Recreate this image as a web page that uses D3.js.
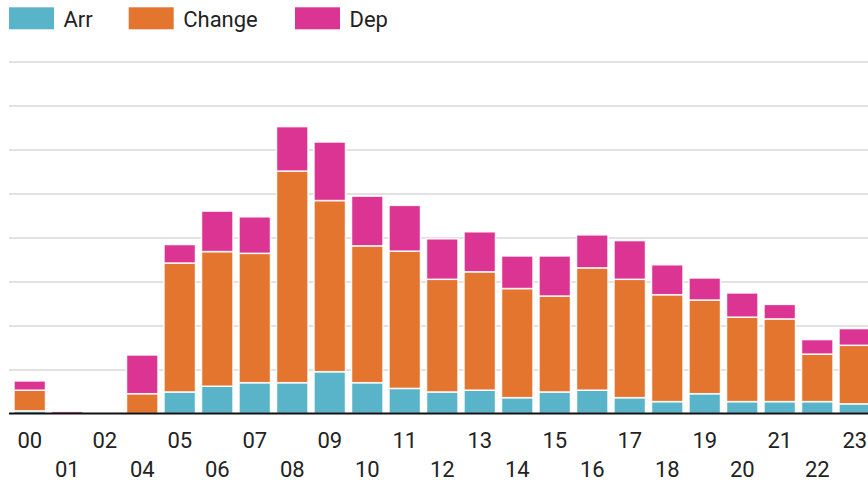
<!DOCTYPE html>
<html>
<head>
<meta charset="utf-8">
<script src="https://cdn.jsdelivr.net/npm/d3@7"></script>
<style>
  body { margin: 0; background: #fff; }
  svg { display: block; font-family: Roboto, "Noto Sans", sans-serif; }
</style>
</head>
<body>
<div id="chart"></div>
<script>
// hours (no 03 in the data)
const hours = ["00","01","02","04","05","06","07","08","09","10","11","12",
               "13","14","15","16","17","18","19","20","21","22","23"];
const arr    = [0.6, 0, 0, 0,   4.9, 6.2, 7.0, 7.0, 9.5, 7.0, 5.7, 4.9,
                5.3, 3.6, 4.9, 5.3, 3.6, 2.7, 4.5, 2.7, 2.7, 2.7, 2.2];
const change = [4.7, 0, 0, 4.5, 29.3, 30.6, 29.4, 48.1, 38.9, 31.1, 31.2, 25.6,
                26.9, 24.8, 21.8, 27.8, 26.9, 24.3, 21.3, 19.2, 18.8, 10.8, 13.3];
const dep    = [2.1, 0.5, 0, 8.8, 4.2, 9.2, 8.3, 10.1, 13.3, 11.3, 10.4, 9.2,
                9.1, 7.4, 9.1, 7.5, 8.8, 6.8, 5.0, 5.5, 3.3, 3.3, 3.8];
const series = ["Arr", "Change", "Dep"];
const colors = ["#5ab4c9", "#e3752e", "#db3493"];
const yTicks = [0, 10, 20, 30, 40, 50, 60, 70, 80];

const width = 868, height = 482,
    margin = ({ top: 61.5, right: -5.5, bottom: 68.5, left: 11 });

const svg = d3.select("#chart")
    .append("svg")
    .attr("width", width)
    .attr("height", height);

// table for the stack
const table = hours.map((h, i) => ({ hour: h, Arr: arr[i], Change: change[i], Dep: dep[i] }));
const stacked = d3.stack().keys(series)(table);

const x = d3.scaleBand()
    .domain(hours)
    .range([margin.left, width - margin.right])
    .paddingInner(0.16)
    .paddingOuter(0.08);

const y = d3.scaleLinear()
    .domain([0, 80])
    .range([height - margin.bottom, margin.top]);

const color = d3.scaleOrdinal().domain(series).range(colors);

// gridlines
svg.append("g")
    .attr("transform", "translate(9,0)")
    .call(d3.axisLeft(y).tickValues(yTicks.slice(1)).tickSize(-(width + 10)).tickFormat(""))
    .call(g => g.select(".domain").remove())
    .call(g => g.selectAll(".tick line").attr("stroke", "#d9d9d9").attr("stroke-width", 1.6));

// bars
svg.append("g")
    .selectAll("g")
    .data(stacked)
    .join("g")
    .attr("fill", d => color(d.key))
    .selectAll("rect")
    .data(d => d)
    .join("rect")
    .attr("x", d => x(d.data.hour))
    .attr("width", x.bandwidth())
    .attr("y", d => y(d[1]))
    .attr("height", d => Math.max(0, y(d[0]) - y(d[1])))
    .attr("stroke", "#fff")
    .attr("stroke-opacity", 0.9)
    .attr("stroke-width", d => (d[1] - d[0]) > 0 ? 1.5 : 0);

// x axis, labels in two alternating rows
const xAxis = svg.append("g")
    .attr("transform", `translate(0,${height - margin.bottom})`)
    .call(d3.axisBottom(x).tickSize(0).tickSizeOuter(0));
xAxis.select(".domain").remove();
xAxis.selectAll("text")
    .attr("font-size", 22)
    .attr("font-family", "Roboto, sans-serif")
    .attr("fill", "#222")
    .attr("dy", null)
    .attr("y", (d, i) => i % 2 === 0 ? 34 : 63);

// baseline
svg.append("line")
    .attr("x1", 9).attr("x2", width)
    .attr("y1", y(0)).attr("y2", y(0))
    .attr("stroke", "#111")
    .attr("stroke-width", 2);

// legend
const legendX = [9, 128.7, 295];
const legend = svg.append("g")
    .selectAll("g")
    .data(series)
    .join("g")
    .attr("transform", (d, i) => `translate(${legendX[i]},7.3)`);
legend.append("rect")
    .attr("width", 45)
    .attr("height", 22)
    .attr("fill", d => color(d));
legend.append("text")
    .attr("x", 54.5)
    .attr("y", 19.4)
    .attr("font-size", 22)
    .attr("fill", "#222")
    .text(d => d);
</script>
</body>
</html>
